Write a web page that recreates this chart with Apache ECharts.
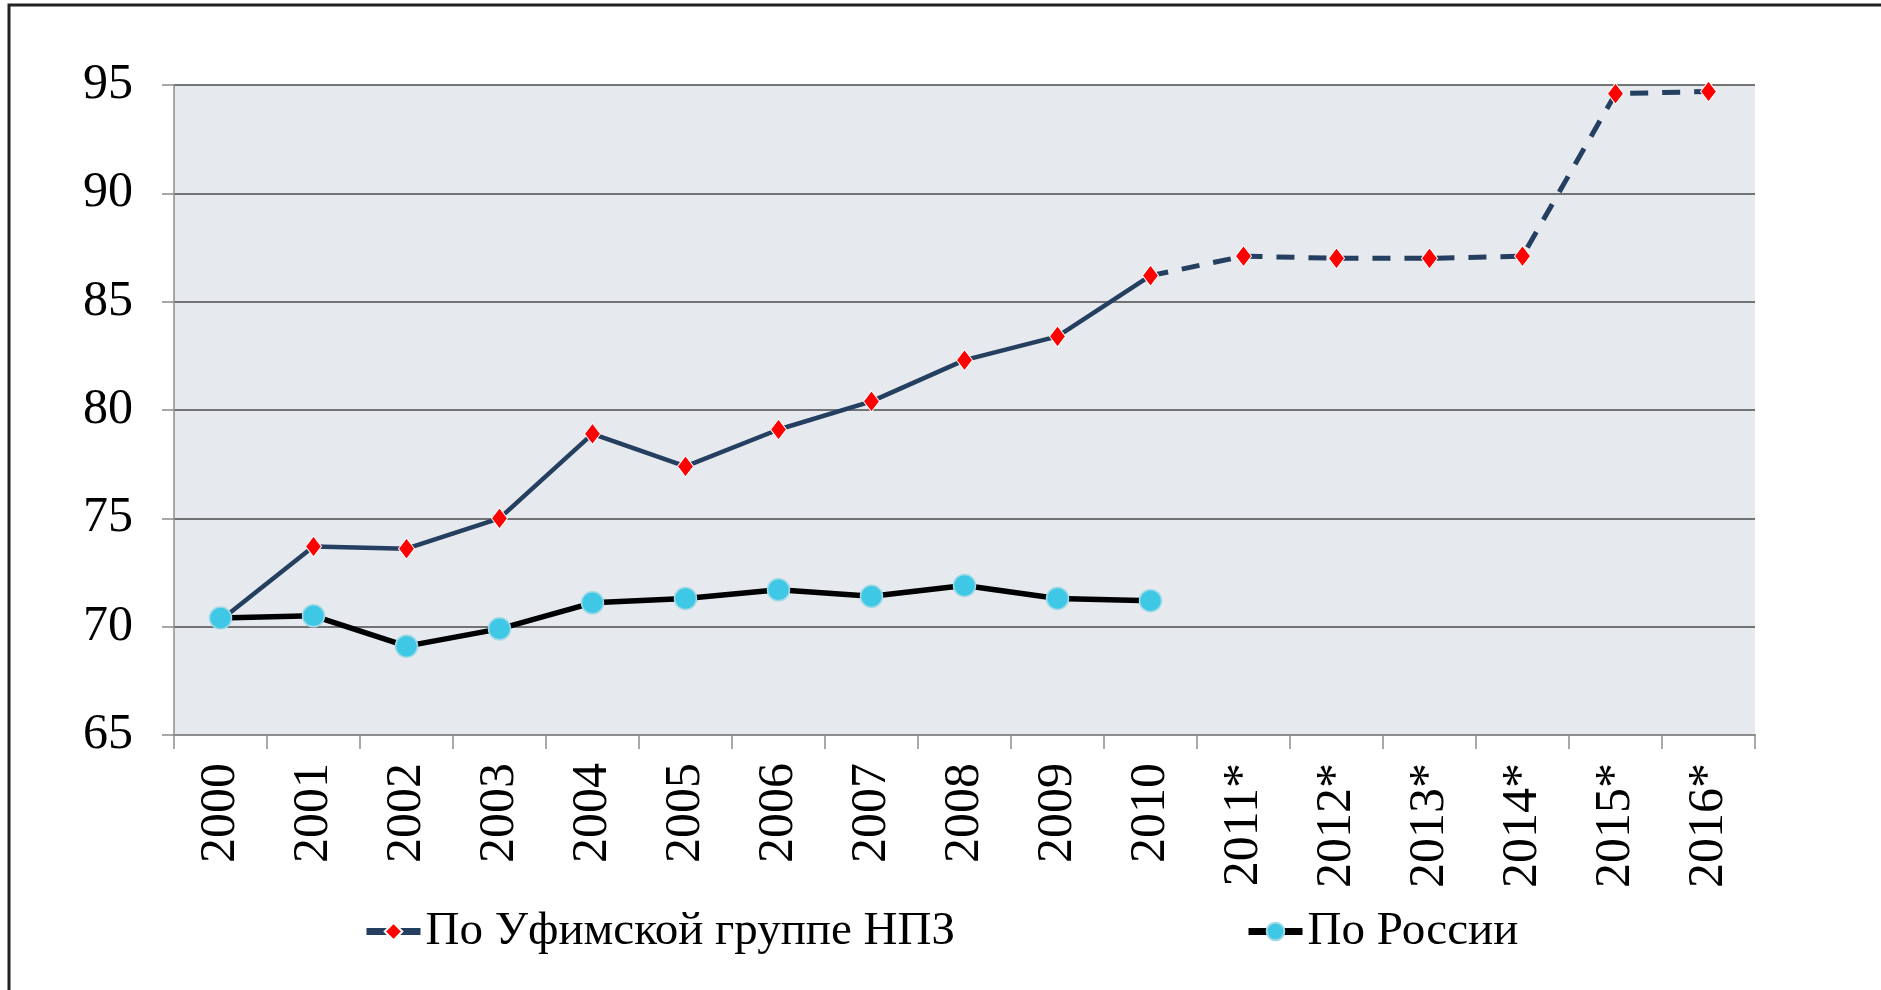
<!DOCTYPE html>
<html>
<head>
<meta charset="utf-8">
<script src="https://cdn.jsdelivr.net/npm/echarts@6/dist/echarts.min.js"></script>
<style>
  html, body { margin: 0; padding: 0; background: #fff; }
  #main-chart { width: 1881px; height: 990px; }
</style>
</head>
<body>
<div id="main-chart"></div>
<script>
// данные с графика
var years = ['2000', '2001', '2002', '2003', '2004', '2005', '2006', '2007', '2008',
             '2009', '2010', '2011*', '2012*', '2013*', '2014*', '2015*', '2016*'];
var ufaValues = [70.3, 73.7, 73.6, 75.0, 78.9, 77.4, 79.1, 80.4, 82.3, 83.4, 86.2,
                 87.1, 87.0, 87.0, 87.1, 94.6, 94.7];
var russiaValues = [70.4, 70.5, 69.1, 69.9, 71.1, 71.3, 71.7, 71.4, 71.9, 71.3, 71.2];
var yTicks = [65, 70, 75, 80, 85, 90, 95];
var lastFactIndex = 10; // 2010 - дальше прогноз (пунктир)

var ufaName = 'По Уфимской группе НПЗ';
var rusName = 'По России';

// факт - сплошная линия, прогноз - пунктир
var ufaFact = ufaValues.map(function (v, i) { return i <= lastFactIndex ? v : null; });
var ufaPlan = ufaValues.map(function (v, i) { return i >= lastFactIndex ? v : null; });

var font = 'Liberation Serif';
var myChart = echarts.init(document.getElementById('main-chart'));

var option = {
    animation: false,
    graphic: [{
        type: 'rect',
        shape: { x: 9, y: 5, width: 1960, height: 1100 },
        style: { fill: 'none', stroke: '#222', lineWidth: 3 },
        z: 100
    }],
    grid: {
        left: 174,
        right: 126,
        top: 85,
        bottom: 255,
        show: true,
        backgroundColor: '#E6E9EE',
        borderWidth: 0
    },
    legend: [{
        data: [{ name: ufaName, lineStyle: { width: 7 } }],
        left: 358,
        top: 903,
        itemWidth: 54,
        itemHeight: 22,
        itemGap: 0,
        textStyle: { fontFamily: font, fontSize: 47, color: '#000' }
    }, {
        data: [{ name: rusName, lineStyle: { width: 7 } }],
        left: 1240,
        top: 903,
        itemWidth: 54,
        itemHeight: 22,
        itemGap: 0,
        textStyle: { fontFamily: font, fontSize: 47, color: '#000' }
    }],
    xAxis: {
        type: 'category',
        data: years,
        boundaryGap: true,
        axisLine: { lineStyle: { color: '#8C8C8C', width: 2 } },
        axisTick: { show: true, interval: 0, length: 14, lineStyle: { color: '#8C8C8C', width: 1.5 } },
        axisLabel: {
            interval: 0,
            rotate: 90,
            margin: 28,
            fontFamily: font,
            fontSize: 50,
            color: '#000'
        }
    },
    yAxis: {
        type: 'value',
        min: yTicks[0],
        max: yTicks[yTicks.length - 1],
        interval: 5,
        axisLine: { show: true, lineStyle: { color: '#8C8C8C', width: 1.5 } },
        axisTick: { show: true, length: 12, lineStyle: { color: '#8C8C8C', width: 1.5 } },
        axisLabel: { margin: 41, fontFamily: font, fontSize: 50, color: '#000' },
        splitLine: { lineStyle: { color: '#4A4A4A', width: 1.5 } }
    },
    series: [{
        name: ufaName + ' (прогноз)',
        type: 'line',
        data: ufaPlan,
        symbol: 'diamond',
        symbolSize: [16, 21],
        lineStyle: { color: '#243F60', width: 5, type: [18, 14] },
        itemStyle: { color: '#FF0000', borderColor: '#FFFFFF', borderWidth: 1 },
        z: 2
    }, {
        name: ufaName,
        type: 'line',
        data: ufaFact,
        symbol: 'diamond',
        symbolSize: [16, 21],
        lineStyle: { color: '#243F60', width: 4.5 },
        itemStyle: { color: '#FF0000', borderColor: '#FFFFFF', borderWidth: 1 },
        z: 3
    }, {
        name: rusName,
        type: 'line',
        data: russiaValues,
        symbol: 'circle',
        symbolSize: 22,
        lineStyle: { color: '#000000', width: 5.5 },
        itemStyle: { color: '#3FC8E6', borderColor: '#9FD9E6', borderWidth: 1.5 },
        z: 4
    }]
};

myChart.setOption(option);
</script>
</body>
</html>
